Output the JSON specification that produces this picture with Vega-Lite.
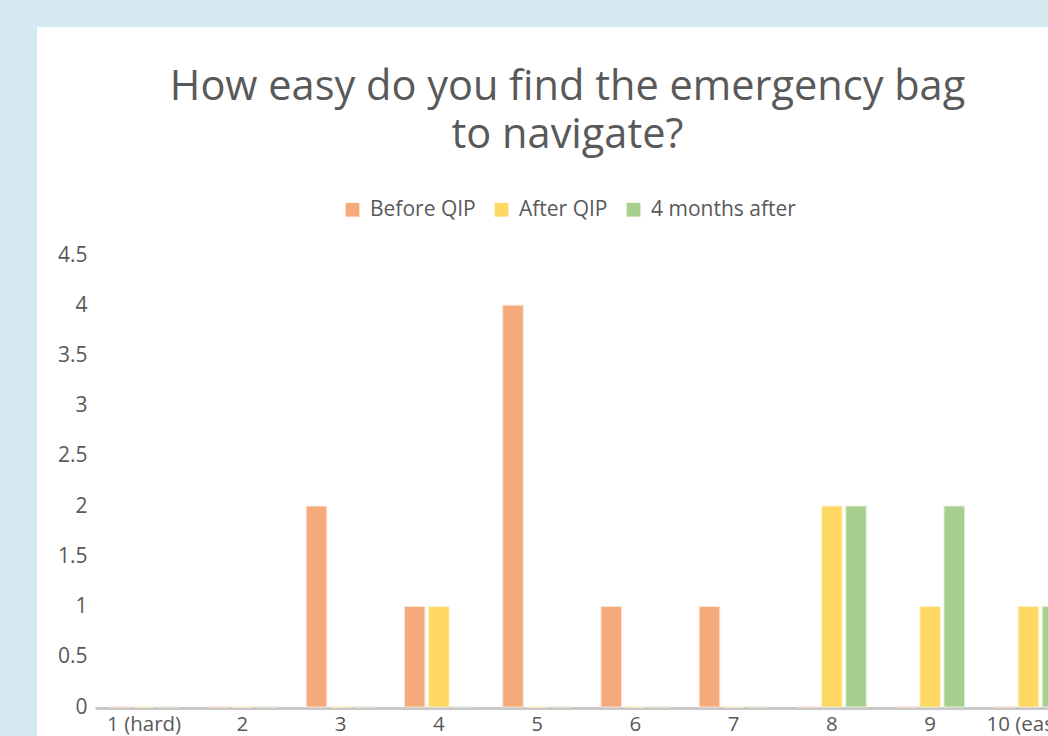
{
  "$schema": "https://vega.github.io/schema/vega-lite/v6.json",
  "width": 1011,
  "height": 709,
  "autosize": {"type": "none"},
  "padding": {"left": 37, "top": 27, "right": 0, "bottom": 0},
  "background": "#d5eaf0",
  "config": {
    "view": {"fill": "white", "stroke": null},
    "font": "Open Sans"
  },
  "title": {
    "text": ["How easy do you find the emergency bag", "to navigate?"],
    "fontSize": 41.5,
    "fontWeight": "normal",
    "color": "#595959",
    "anchor": "middle",
    "frame": "group",
    "offset": -129,
    "dx": 25,
    "lineHeight": 48
  },
  "data": {
    "values": [
      {"category": "1 (hard)", "series": "Before QIP", "value": 0},
      {"category": "1 (hard)", "series": "After QIP", "value": 0},
      {"category": "1 (hard)", "series": "4 months after", "value": 0},
      {"category": "2", "series": "Before QIP", "value": 0},
      {"category": "2", "series": "After QIP", "value": 0},
      {"category": "2", "series": "4 months after", "value": 0},
      {"category": "3", "series": "Before QIP", "value": 2},
      {"category": "3", "series": "After QIP", "value": 0},
      {"category": "3", "series": "4 months after", "value": 0},
      {"category": "4", "series": "Before QIP", "value": 1},
      {"category": "4", "series": "After QIP", "value": 1},
      {"category": "4", "series": "4 months after", "value": 0},
      {"category": "5", "series": "Before QIP", "value": 4},
      {"category": "5", "series": "After QIP", "value": 0},
      {"category": "5", "series": "4 months after", "value": 0},
      {"category": "6", "series": "Before QIP", "value": 1},
      {"category": "6", "series": "After QIP", "value": 0},
      {"category": "6", "series": "4 months after", "value": 0},
      {"category": "7", "series": "Before QIP", "value": 1},
      {"category": "7", "series": "After QIP", "value": 0},
      {"category": "7", "series": "4 months after", "value": 0},
      {"category": "8", "series": "Before QIP", "value": 0},
      {"category": "8", "series": "After QIP", "value": 2},
      {"category": "8", "series": "4 months after", "value": 2},
      {"category": "9", "series": "Before QIP", "value": 0},
      {"category": "9", "series": "After QIP", "value": 1},
      {"category": "9", "series": "4 months after", "value": 2},
      {"category": "10 (easy)", "series": "Before QIP", "value": 0},
      {"category": "10 (easy)", "series": "After QIP", "value": 1},
      {"category": "10 (easy)", "series": "4 months after", "value": 1}
    ]
  },
  "mark": {"type": "bar", "strokeWidth": 1},
  "encoding": {
    "x": {
      "field": "category",
      "type": "nominal",
      "sort": ["1 (hard)", "2", "3", "4", "5", "6", "7", "8", "9", "10 (easy)"],
      "scale": {"range": [58, 1040.5], "paddingInner": 0.3, "paddingOuter": 0.15},
      "axis": {
        "title": null,
        "labelAngle": 0,
        "ticks": false,
        "tickSize": 0,
        "domainColor": "#c8c8c8",
        "domainWidth": 3,
        "offset": -28,
        "labelFontSize": 20.5,
        "labelColor": "#595959",
        "labelPadding": 6,
        "grid": false
      }
    },
    "xOffset": {
      "field": "series",
      "type": "nominal",
      "sort": ["Before QIP", "After QIP", "4 months after"],
      "scale": {"paddingInner": 0.15, "paddingOuter": 0}
    },
    "y": {
      "field": "value",
      "type": "quantitative",
      "scale": {"domain": [0, 4.5], "range": [680, 228], "nice": false, "zero": true},
      "axis": {
        "title": null,
        "domain": false,
        "ticks": false,
        "tickSize": 0,
        "grid": false,
        "values": [0, 0.5, 1, 1.5, 2, 2.5, 3, 3.5, 4, 4.5],
        "format": "~g",
        "offset": -50,
        "labelPadding": 0,
        "labelFontSize": 21,
        "labelColor": "#595959"
      }
    },
    "color": {
      "field": "series",
      "type": "nominal",
      "scale": {
        "domain": ["Before QIP", "After QIP", "4 months after"],
        "range": ["#f5aa7c", "#ffd862", "#a9cf8e"]
      },
      "legend": {
        "orient": "none",
        "legendX": 305,
        "legendY": 172,
        "direction": "horizontal",
        "title": null,
        "labelFontSize": 21,
        "labelColor": "#595959",
        "symbolType": "square",
        "symbolSize": 190,
        "symbolStrokeWidth": 0,
        "columnPadding": 15,
        "labelOffset": 7
      }
    },
    "stroke": {
      "field": "series",
      "type": "nominal",
      "scale": {
        "domain": ["Before QIP", "After QIP", "4 months after"],
        "range": ["#fbe2d2", "#fff0c8", "#e0eed6"]
      },
      "legend": null
    }
  }
}
